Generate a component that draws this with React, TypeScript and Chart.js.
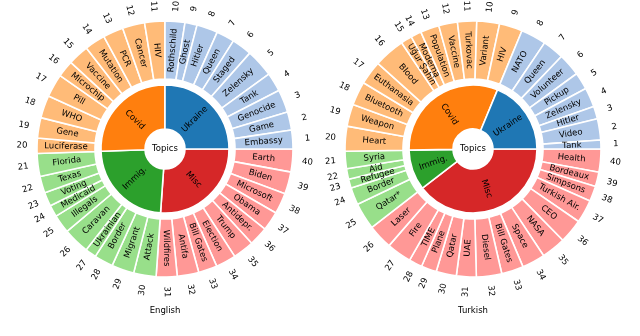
import React, { useEffect, useRef } from 'react';
import { Chart, registerables } from 'chart.js';
Chart.register(...registerables);

// ---------- data ----------
const categories = ['Ukraine', 'Covid', 'Immig.', 'Misc'];
const darkColors = ['#1f77b4', '#ff7f0e', '#2ca02c', '#d62728'];
const lightColors = ['#aec7e8', '#ffbb78', '#98df8a', '#ff9896'];
const tickLabels = ['1','2','3','4','5','6','7','8','9','10','11','12','13','14','15','16','17','18','19','20',
  '21','22','23','24','25','26','27','28','29','30','31','32','33','34','35','36','37','38','39','40'];

const enTopics = ['Embassy','Game','Genocide','Tank','Zelensky','Staged','Queen','Hitler','Ghost','Rothschild',
  'HIV','Cancer','PCR','Mutation','Vaccine','Microchip','Pill','WHO','Gene','Luciferase',
  'Florida','Texas','Voting','Medicaid','Illegals','Caravan','Ukrainian','Border','Migrant','Attack',
  'Wildfires','Antifa','Bill Gates','Election','Trump','Antidepr.','Obama','Microsoft','Biden','Earth'];
const enShares = [8.5, 8.3, 10.4, 8.6, 12.7, 9.2, 8.2, 9.6, 5.5, 9.0,
  9.2, 10.1, 9.2, 9.4, 9.5, 7.6, 10.5, 10.3, 9.3, 6.9,
  10.4, 7.6, 6.3, 5.3, 8.4, 12.0, 5.0, 8.6, 10.2, 10.2,
  9.5, 9.8, 8.5, 9.2, 9.6, 8.7, 8.7, 9.5, 10.1, 10.4];
const enCounts = [10, 10, 10, 10];

const trTopics = ['Tank','Video','Hitler','Zelensky','Pickup','Volunteer','Queen','NATO',
  'HIV','Variant','Turkovac','Vaccine','Population','Moderna','Uğur Şahin','Blood','Euthanasia','Bluetooth','Weapon','Heart',
  'Syria','Aid','Refugee','Border','Qatar*',
  'Laser','Fire','TIME','Plane','Qatar','UAE','Diesel','Bill Gates','Space','NASA','CEO','Turkish Air.','Simpsons','Bordeaux','Health'];
const trShares = [4.0, 9.7, 5.7, 8.8, 7.8, 10.3, 9.7, 11.5,
  10.5, 10.3, 8.7, 8.5, 8.5, 4.8, 5.1, 14.1, 10.8, 10.8, 10.1, 11.3,
  7.9, 4.8, 4.0, 7.9, 12.2,
  11.2, 11.3, 6.0, 7.0, 9.2, 9.0, 11.5, 10.0, 10.5, 11.0, 11.0, 10.5, 7.0, 6.5, 10.5];
const trCounts = [8, 12, 5, 15];

const FONT = '"DejaVu Sans", sans-serif';

function catIndex(counts: number[]): number[] {
  const out: number[] = [];
  counts.forEach((c, k) => { for (let j = 0; j < c; j++) out.push(k); });
  return out;
}

function drawRadial(ctx: CanvasRenderingContext2D, text: string, px: number, py: number, a: number) {
  ctx.save();
  ctx.translate(px, py);
  let rot = a;
  if (Math.cos(a) < -1e-6) rot = a + Math.PI;
  ctx.rotate(rot);
  ctx.textAlign = 'center';
  ctx.textBaseline = 'middle';
  ctx.fillText(text, 0, 0);
  ctx.restore();
}

type PanelProps = { topics: string[]; shares: number[]; counts: number[]; title: string; left: number; padL: number; padR: number };

function Panel({ topics, shares, counts, title, left, padL, padR }: PanelProps) {
  const ref = useRef<HTMLCanvasElement | null>(null);
  useEffect(() => {
    const cats = catIndex(counts);
    const sums = categories.map((_, k) => shares.reduce((s, v, i) => (cats[i] === k ? s + v : s), 0));
    // Chart.js draws clockwise from the start angle; the reference runs counter-clockwise from east,
    // so feed the series in reverse order.
    const rTopics = [...topics].reverse();
    const rShares = [...shares].reverse();
    const rTicks = tickLabels.slice(0, topics.length).reverse();
    const rOuterColors = [...cats].reverse().map((k) => lightColors[k]);
    const rSums = [...sums].reverse();
    const rInnerColors = [...darkColors].reverse();
    const rCats = [...categories].reverse();

    const textPlugin = {
      id: 'sunburstText',
      afterDatasetsDraw(chart: any) {
        const ctx: CanvasRenderingContext2D = chart.ctx;
        ctx.save();
        ctx.fillStyle = '#000';
        const outer = chart.getDatasetMeta(0).data;
        let cx = 0, cy = 0;
        outer.forEach((arc: any, i: number) => {
          const p = arc.getProps(['x', 'y', 'startAngle', 'endAngle', 'innerRadius', 'outerRadius'], true);
          cx = p.x; cy = p.y;
          const a = (p.startAngle + p.endAngle) / 2;
          const r = (p.innerRadius + p.outerRadius) / 2;
          ctx.font = `8.5px ${FONT}`;
          drawRadial(ctx, rTopics[i], p.x + r * Math.cos(a), p.y + r * Math.sin(a), a);
          const rt = p.outerRadius + 15;
          ctx.font = `8.5px ${FONT}`;
          drawRadial(ctx, rTicks[i], p.x + rt * Math.cos(a), p.y + rt * Math.sin(a), a);
        });
        const inner = chart.getDatasetMeta(2).data;
        inner.forEach((arc: any, i: number) => {
          const p = arc.getProps(['x', 'y', 'startAngle', 'endAngle', 'innerRadius', 'outerRadius'], true);
          const a = (p.startAngle + p.endAngle) / 2;
          const r = (p.innerRadius + p.outerRadius) / 2;
          ctx.font = `8.5px ${FONT}`;
          drawRadial(ctx, rCats[i], p.x + r * Math.cos(a), p.y + r * Math.sin(a), a);
        });
        ctx.font = `8.5px ${FONT}`;
        ctx.textAlign = 'center';
        ctx.textBaseline = 'middle';
        ctx.fillText('Topics', cx, cy);
        ctx.fillText(title, cx, cy + 162);
        ctx.restore();
      },
    };

    const chart = new Chart(ref.current as HTMLCanvasElement, {
      type: 'doughnut',
      data: {
        labels: rTopics,
        datasets: [
          { data: rShares, backgroundColor: rOuterColors, borderColor: '#ffffff', borderWidth: 1.6, weight: 58 } as any,
          { data: [1], backgroundColor: ['rgba(0,0,0,0)'], borderWidth: 0, weight: 6 } as any,
          { data: rSums, backgroundColor: rInnerColors, borderColor: '#ffffff', borderWidth: 1.6, weight: 44 } as any,
        ],
      },
      options: {
        responsive: false,
        animation: false,
        rotation: 90,
        radius: 128,
        cutout: '15.625%',
        layout: { padding: { left: padL, right: padR, top: 0, bottom: 38 } },
        plugins: { legend: { display: false }, tooltip: { enabled: false }, title: { display: false } },
        events: [],
      } as any,
      plugins: [textPlugin],
    });
    return () => chart.destroy();
  }, []);
  return (
    <canvas ref={ref} width={320} height={336}
      style={{ position: 'absolute', left, top: 0, width: 320, height: 336 }} />
  );
}

export default function App() {
  return (
    <div style={{ position: 'fixed', left: 0, top: 0, width: 640, height: 336, background: '#fff' }}>
      <Panel topics={enTopics} shares={enShares} counts={enCounts} title="English" left={0} padL={10} padR={0} />
      <Panel topics={trTopics} shares={trShares} counts={trCounts} title="Turkish" left={320} padL={0} padR={14} />
    </div>
  );
}
